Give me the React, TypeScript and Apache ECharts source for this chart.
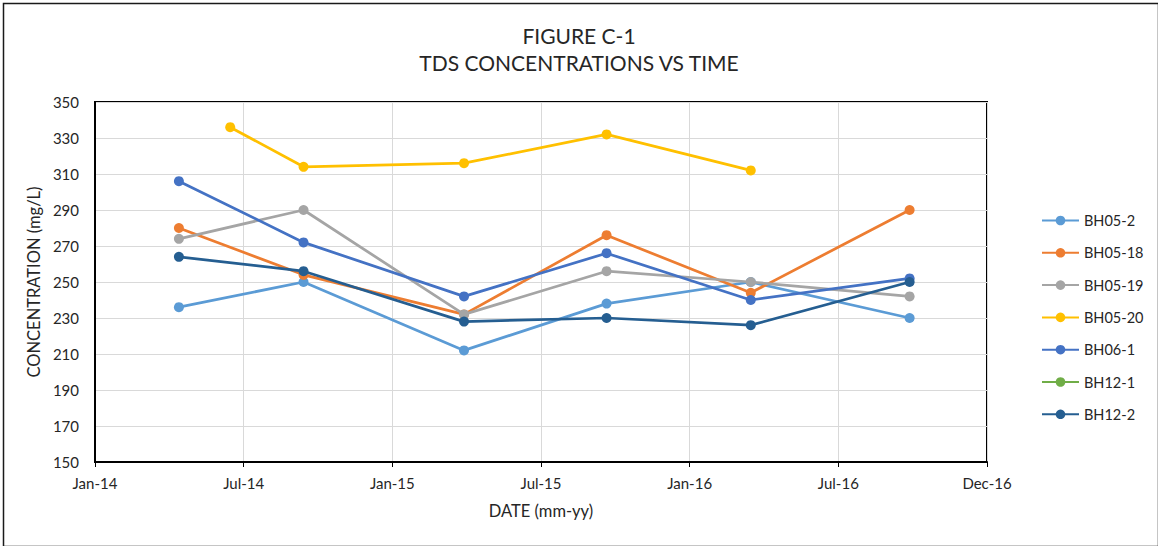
import React, { useEffect, useRef } from "react";
import * as echarts from "echarts";

const titleLines = ["FIGURE C-1", "TDS CONCENTRATIONS VS TIME"];
const xAxisTitle = "DATE (mm-yy)";
const yAxisTitle = "CONCENTRATION (mg/L)";

const axisStartDate = "2014-01-01";
const axisEndDays = 1095;
const axisStepDays = 182.5;
const monthNames = ["Jan", "Feb", "Mar", "Apr", "May", "Jun", "Jul", "Aug", "Sep", "Oct", "Nov", "Dec"];

const sampleDates = ["2014-04-14", "2014-09-14", "2015-03-30", "2015-09-21", "2016-03-16", "2016-09-27"];
const bh0520Dates = ["2014-06-16", "2014-09-14", "2015-03-30", "2015-09-21", "2016-03-16"];

const seriesNames = ["BH05-2", "BH05-18", "BH05-19", "BH05-20", "BH06-1", "BH12-1", "BH12-2"];
const bh05_2 = [236, 250, 212, 238, 250, 230];
const bh05_18 = [280, 254, 232, 276, 244, 290];
const bh05_19 = [274, 290, 232, 256, 250, 242];
const bh05_20 = [336, 314, 316, 332, 312];
const bh06_1 = [306, 272, 242, 266, 240, 252];
const bh12_1: number[] = [];
const bh12_2 = [264, 256, 228, 230, 226, 250];

const seriesColors = ["#5B9BD5", "#ED7D31", "#A5A5A5", "#FFC000", "#4472C4", "#70AD47", "#255E91"];

const DAY = 86400000;
const baseMs = Date.parse(axisStartDate + "T00:00:00Z");
const toDays = (d: string) => (Date.parse(d + "T00:00:00Z") - baseMs) / DAY;

const fmtTick = (v: number) => {
  const d = new Date(baseMs + Math.floor(v) * DAY);
  const yy = String(d.getUTCFullYear() % 100).padStart(2, "0");
  return `${monthNames[d.getUTCMonth()]}-${yy}`;
};

const FONT = "Lato, 'Open Sans', sans-serif";
const TXT = "#262626";

export default function App() {
  const ref = useRef<HTMLDivElement>(null);
  useEffect(() => {
    if (!ref.current) return;
    const chart = echarts.init(ref.current, undefined, { renderer: "svg" });
    const dataSets = [
      [sampleDates, bh05_2],
      [sampleDates, bh05_18],
      [sampleDates, bh05_19],
      [bh0520Dates, bh05_20],
      [sampleDates, bh06_1],
      [sampleDates, bh12_1],
      [sampleDates, bh12_2],
    ] as [string[], number[]][];
    const series = seriesNames.map((name, i) => {
      const [dates, vals] = dataSets[i];
      return {
        name,
        type: "line",
        data: vals.map((v, k) => [toDays(dates[k]), v]),
        symbol: "circle",
        symbolSize: 10,
        color: seriesColors[i],
        lineStyle: { width: 2.75, color: seriesColors[i] },
        itemStyle: { color: seriesColors[i] },
        z: 2 + i,
      };
    });
    chart.setOption({
      animation: false,
      backgroundColor: "#fff",
      textStyle: { fontFamily: FONT },
      title: {
        text: titleLines.join("\n"),
        left: "center",
        top: 17,
        textStyle: { fontFamily: FONT, fontSize: 21, fontWeight: "normal", color: TXT, lineHeight: 27 },
      },
      graphic: [
        {
          type: "rect",
          left: 1,
          top: 1,
          shape: { x: 0, y: 0, width: 1155, height: 543 },
          style: { fill: "none", stroke: "#1a1a1a", lineWidth: 1.5 },
          silent: true,
        },
      ],
      legend: {
        orient: "vertical",
        left: 1036,
        top: 208,
        itemWidth: 37,
        itemHeight: 12,
        itemGap: 17.3,
        textStyle: { fontFamily: FONT, fontSize: 14.5, color: TXT, lineHeight: 14 },
        data: seriesNames,
      },
      grid: {
        left: 95,
        right: 171,
        top: 102,
        bottom: 84,
        show: true,
        borderColor: "#000",
        borderWidth: 2,
      },
      xAxis: {
        type: "value",
        min: 0,
        max: axisEndDays,
        interval: axisStepDays,
        name: xAxisTitle,
        nameLocation: "middle",
        nameGap: 40,
        nameTextStyle: { fontFamily: FONT, fontSize: 16.5, color: TXT },
        axisLine: { show: true, lineStyle: { color: "#000", width: 2 } },
        axisTick: { show: true, length: 5, lineStyle: { color: "#000", width: 1 } },
        axisLabel: { formatter: fmtTick, fontFamily: FONT, fontSize: 15, color: TXT, margin: 13, showMaxLabel: true, showMinLabel: true },
        splitLine: { show: true, lineStyle: { color: "#d9d9d9", width: 1 } },
      },
      yAxis: {
        type: "value",
        min: 150,
        max: 350,
        interval: 20,
        name: yAxisTitle,
        nameLocation: "middle",
        nameGap: 50,
        nameTextStyle: { fontFamily: FONT, fontSize: 16.5, color: TXT },
        axisLine: { show: true, lineStyle: { color: "#000", width: 2 } },
        axisTick: { show: false },
        axisLabel: { fontFamily: FONT, fontSize: 15, color: TXT, margin: 16 },
        splitLine: { show: true, lineStyle: { color: "#d9d9d9", width: 1 } },
      },
      series,
    });
    return () => chart.dispose();
  }, []);
  return (
    <div
      ref={ref}
      style={{ position: "absolute", left: 0, top: 0, width: 1158, height: 546, background: "#fff" }}
    />
  );
}
